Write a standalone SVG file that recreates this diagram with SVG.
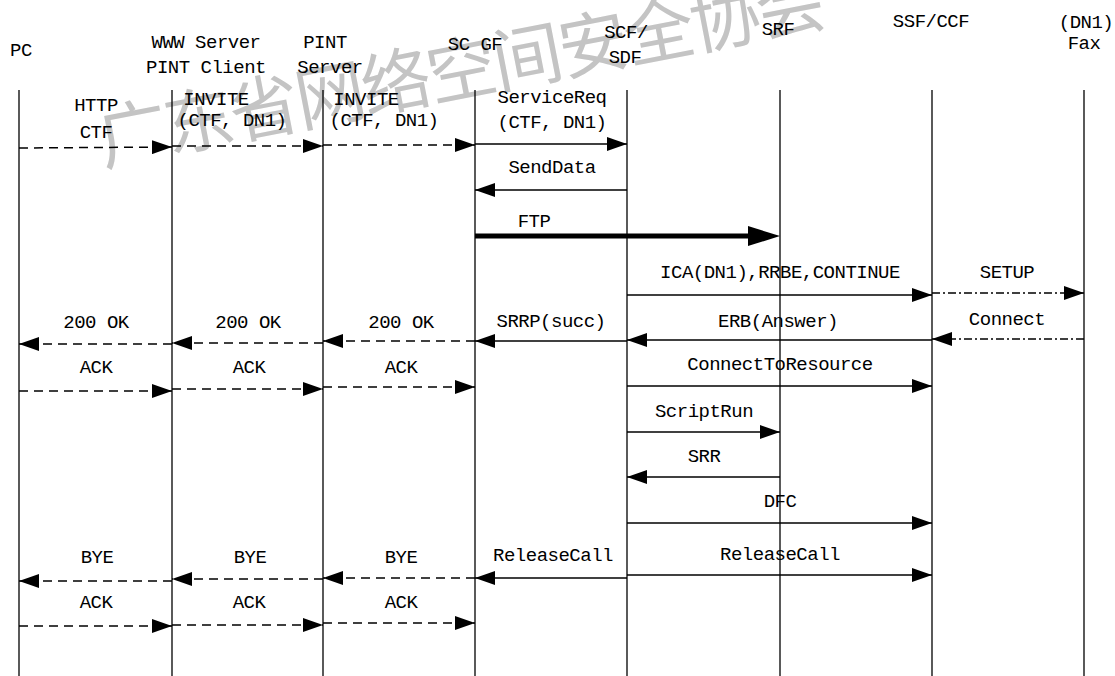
<svg xmlns="http://www.w3.org/2000/svg" width="1115" height="676" viewBox="0 0 1115 676">
<style>
text{font-family:"Liberation Mono","DejaVu Sans Mono",monospace;font-size:19px;letter-spacing:-0.5px;fill:#000;text-anchor:middle}
.wm{font-family:"Noto Sans CJK SC",sans-serif;font-size:70px;fill:#c4c4c4;text-anchor:start;letter-spacing:-3px}
.life{stroke:#000;stroke-width:1.3;fill:none}
.s{stroke:#000;stroke-width:1.5;fill:none;marker-end:url(#ah)}
.d{stroke:#000;stroke-width:1.5;fill:none;stroke-dasharray:9 6;marker-end:url(#ah)}
.dd{stroke:#000;stroke-width:1.5;fill:none;stroke-dasharray:8 3 2 3;marker-end:url(#ah)}
.t{stroke:#000;stroke-width:5;fill:none;marker-end:url(#ahb)}
</style>
<defs>
<marker id="ah" markerUnits="userSpaceOnUse" markerWidth="20" markerHeight="14" refX="20" refY="7" orient="auto"><path d="M0,0 L20,7 L0,14 z" fill="#000"/></marker>
<marker id="ahb" markerUnits="userSpaceOnUse" markerWidth="32" markerHeight="20" refX="12" refY="10" orient="auto"><path d="M0,0 L32,10 L0,20 z" fill="#000"/></marker>
</defs>
<rect width="1115" height="676" fill="#fff"/>
<g id="watermark"><text class="wm" transform="translate(133,134) rotate(-11)" x="-35" y="25">广东省网络空间安全协会</text></g>
<g id="pc"><line class="life" x1="19" y1="90" x2="19" y2="676"/><text x="21" y="56">PC</text></g>
<g id="www"><line class="life" x1="172" y1="90" x2="172" y2="676"/><text x="206" y="48">WWW Server</text><text x="206" y="73">PINT Client</text></g>
<g id="pint"><line class="life" x1="323" y1="90" x2="323" y2="676"/><text x="325" y="48">PINT</text><text x="330" y="73">Server</text></g>
<g id="scgf"><line class="life" x1="475" y1="90" x2="475" y2="676"/><text x="475" y="50">SC GF</text></g>
<g id="scf"><line class="life" x1="627" y1="90" x2="627" y2="676"/><text x="626" y="38">SCF/</text><text x="625" y="63">SDF</text></g>
<g id="srf"><line class="life" x1="780" y1="90" x2="780" y2="676"/><text x="778" y="35">SRF</text></g>
<g id="ssf"><line class="life" x1="932" y1="90" x2="932" y2="676"/><text x="931" y="27">SSF/CCF</text></g>
<g id="fax"><line class="life" x1="1084" y1="90" x2="1084" y2="676"/><text x="1086" y="28">(DN1)</text><text x="1084" y="49">Fax</text></g>
<g id="connectors">
<line class="d" x1="19" y1="148" x2="172" y2="147"/>
<line class="d" x1="172" y1="146" x2="323" y2="146"/>
<line class="d" x1="323" y1="145" x2="475" y2="145"/>
<line class="s" x1="475" y1="144" x2="627" y2="144"/>
<line class="s" x1="627" y1="190" x2="475" y2="190"/>
<line class="t" x1="475" y1="236" x2="760" y2="236"/>
<line class="s" x1="627" y1="295" x2="932" y2="295"/>
<line class="dd" x1="932" y1="293" x2="1084" y2="293"/>
<line class="d" x1="475" y1="341" x2="323" y2="341"/>
<line class="d" x1="323" y1="343" x2="172" y2="343"/>
<line class="d" x1="172" y1="344" x2="19" y2="344"/>
<line class="s" x1="627" y1="341" x2="475" y2="341"/>
<line class="s" x1="932" y1="340" x2="627" y2="340"/>
<line class="dd" x1="1084" y1="339" x2="932" y2="339"/>
<line class="d" x1="19" y1="391" x2="172" y2="391"/>
<line class="d" x1="172" y1="389" x2="323" y2="389"/>
<line class="d" x1="323" y1="387" x2="475" y2="387"/>
<line class="s" x1="627" y1="386" x2="932" y2="386"/>
<line class="s" x1="627" y1="432" x2="780" y2="432"/>
<line class="s" x1="780" y1="477" x2="627" y2="477"/>
<line class="s" x1="627" y1="523" x2="932" y2="523"/>
<line class="s" x1="627" y1="578" x2="475" y2="578"/>
<line class="s" x1="627" y1="575" x2="932" y2="575"/>
<line class="d" x1="475" y1="578" x2="323" y2="578"/>
<line class="d" x1="323" y1="579" x2="172" y2="579"/>
<line class="d" x1="172" y1="581" x2="19" y2="581"/>
<line class="d" x1="19" y1="626" x2="172" y2="626"/>
<line class="d" x1="172" y1="625" x2="323" y2="625"/>
<line class="d" x1="323" y1="623" x2="475" y2="623"/>
</g>
<g id="labels">
<text x="96" y="111">HTTP</text><text x="96" y="138">CTF</text>
<text x="216" y="105">INVITE</text><text x="232" y="126">(CTF, DN1)</text>
<text x="366" y="105">INVITE</text><text x="384" y="126">(CTF, DN1)</text>
<text x="552" y="103">ServiceReq</text><text x="552" y="128">(CTF, DN1)</text>
<text x="552" y="173">SendData</text>
<text x="534" y="227">FTP</text>
<text x="780" y="278">ICA(DN1),RRBE,CONTINUE</text>
<text x="1007" y="278">SETUP</text>
<text x="96" y="328">200 OK</text><text x="248" y="328">200 OK</text><text x="401" y="328">200 OK</text>
<text x="551" y="327">SRRP(succ)</text>
<text x="778" y="327">ERB(Answer)</text>
<text x="1007" y="325">Connect</text>
<text x="96" y="373">ACK</text><text x="249" y="373">ACK</text><text x="401" y="373">ACK</text>
<text x="780" y="370">ConnectToResource</text>
<text x="704" y="417">ScriptRun</text>
<text x="704" y="462">SRR</text>
<text x="780" y="507">DFC</text>
<text x="97" y="563">BYE</text><text x="250" y="563">BYE</text><text x="401" y="563">BYE</text>
<text x="553" y="561">ReleaseCall</text>
<text x="780" y="560">ReleaseCall</text>
<text x="96" y="608">ACK</text><text x="249" y="608">ACK</text><text x="401" y="608">ACK</text>
</g>
</svg>
